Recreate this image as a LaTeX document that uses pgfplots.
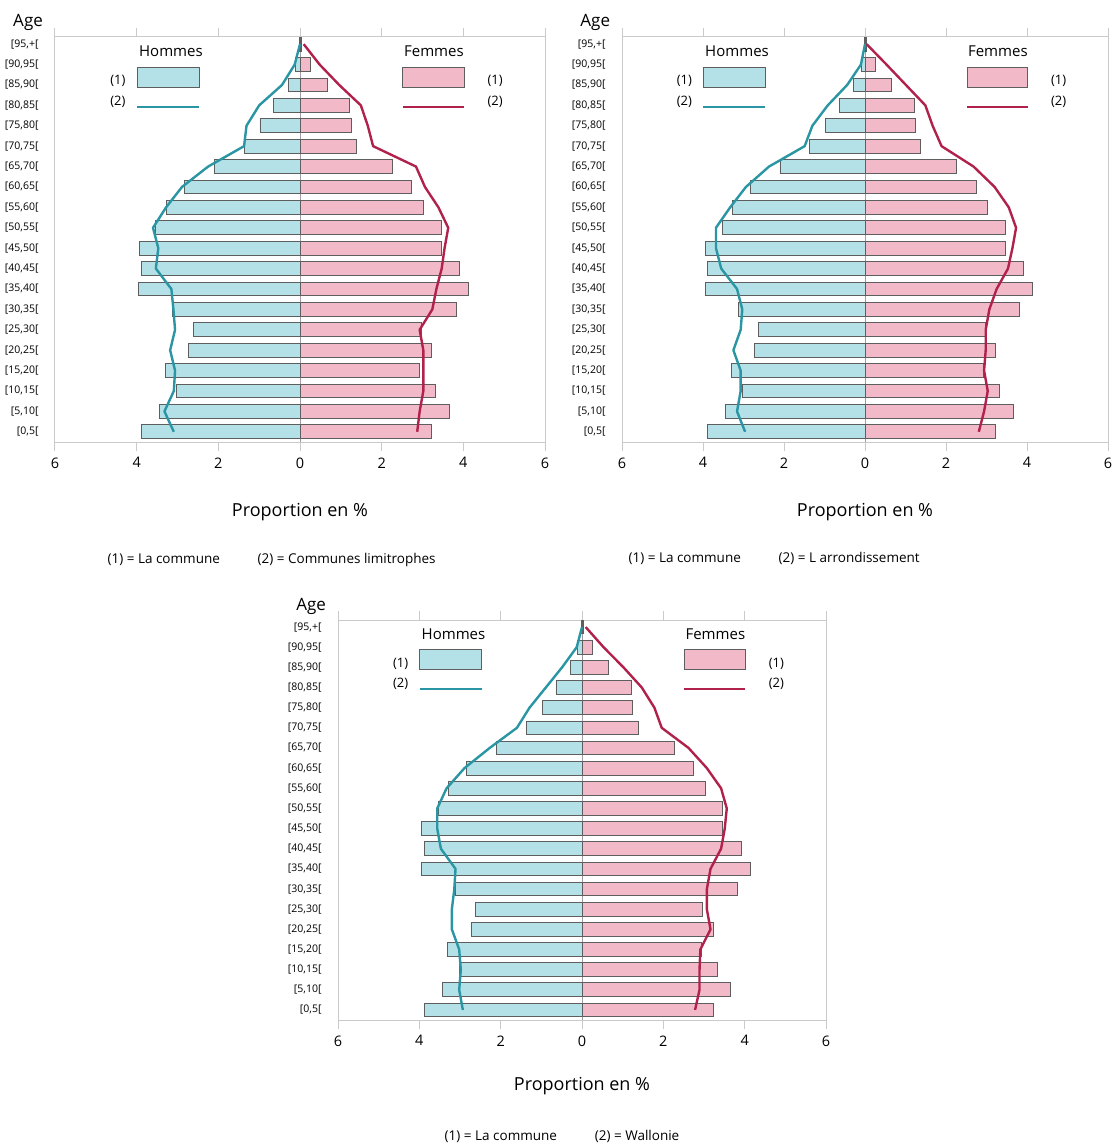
\documentclass[border=0pt]{standalone}
\usepackage{fontspec}
\setmainfont{Open Sans}
\usepackage{pgfplots}
\usepackage{pgfplotstable}
\pgfplotsset{compat=1.18}
\definecolor{menfill}{HTML}{B4E1E8}
\definecolor{womfill}{HTML}{F2BAC8}
\definecolor{baredge}{HTML}{5E5E5E}
\definecolor{menline}{HTML}{2A95A3}
\definecolor{womline}{HTML}{B0224C}
\definecolor{axisgray}{HTML}{CACACA}
\definecolor{midgray}{HTML}{A09AA6}

\pgfplotstableread{
c mb wb m1 w1 m2 w2 m3 w3
0 3.88 3.22 3.09 2.87 2.96 2.81 2.93 2.78
1 3.44 3.66 3.32 2.93 3.16 2.94 3.02 2.89
2 3.02 3.32 3.09 3.02 3.07 3.03 2.98 2.89
3 3.30 2.93 3.06 3.02 3.07 2.94 3.02 2.91
4 2.73 3.22 3.18 3.02 3.25 2.98 3.20 3.16
5 2.62 2.97 3.06 2.93 3.07 2.98 3.20 3.07
6 3.12 3.82 3.10 3.24 3.03 3.07 3.14 3.07
7 3.95 4.13 3.15 3.34 3.16 3.25 3.11 3.16
8 3.88 3.91 3.53 3.47 3.55 3.53 3.47 3.42
9 3.94 3.46 3.47 3.54 3.68 3.64 3.56 3.51
10 3.53 3.46 3.60 3.63 3.68 3.73 3.56 3.56
11 3.28 3.03 3.28 3.39 3.33 3.55 3.33 3.42
12 2.84 2.74 2.89 3.06 2.94 3.20 2.89 3.07
13 2.10 2.27 2.25 2.84 2.37 2.68 2.27 2.62
14 1.37 1.38 1.37 1.79 1.49 1.89 1.60 1.96
15 0.98 1.25 1.31 1.66 1.30 1.67 1.29 1.78
16 0.64 1.21 1.00 1.49 0.92 1.49 0.89 1.47
17 0.29 0.66 0.44 0.96 0.44 1.01 0.49 1.02
18 0.10 0.26 0.13 0.48 0.10 0.53 0.13 0.53
19 0.02 0.03 0.00 0.09 0.00 0.04 0.00 0.09
}\pyr

\pgfplotsset{
  pyr/.style={
    scale only axis,
    xmin=-6, xmax=6, ymin=-0.5, ymax=19.35,
    xtick={-6,-4,-2,0,2,4,6}, xticklabels={6,4,2,0,2,4,6},
    ytick={0,...,19},
    yticklabels={{[0,5[},{[5,10[},{[10,15[},{[15,20[},{[20,25[},{[25,30[},{[30,35[},{[35,40[},{[40,45[},{[45,50[},{[50,55[},{[55,60[},{[60,65[},{[65,70[},{[70,75[},{[75,80[},{[80,85[},{[85,90[},{[90,95[},{[95,+[}},
    axis line style={draw=axisgray, line width=1pt},
    tick align=outside,
    xtick style={draw=axisgray, line width=1pt},
    major tick length=9pt,
    ytick style={draw=none},
    xticklabel style={font=\fontsize{14.5}{16}\selectfont, yshift=-3pt},
    yticklabel style={font=\fontsize{10.5}{12}\selectfont, xshift=-4pt},
    /pgf/number format/assume math mode=true,
    clip=false,
    anchor=south west,
  },
  mbar/.style={xbar, bar width=0.68, bar shift=0pt, fill=menfill, draw=baredge, line width=0.9pt},
  wbar/.style={xbar, bar width=0.68, bar shift=0pt, fill=womfill, draw=baredge, line width=0.9pt},
  mln/.style={menline, line width=2.4pt, no markers, line join=round},
  wln/.style={womline, line width=2.4pt, no markers, line join=round},
}

\newcommand{\centreline}{%
  \draw[midgray, line width=0.8pt] (axis cs:0,-0.5) -- (axis cs:0,19.35);
}
\newcommand{\legendtop}{%
  \node[font=\fontsize{15}{17}\selectfont] at (axis cs:-3.16,18.66) {Hommes};
  \filldraw[fill=menfill, draw=baredge, line width=0.9pt] (axis cs:-3.99,16.9) rectangle (axis cs:-2.47,17.87);
  \draw[menline, line width=2.4pt] (axis cs:-3.99,15.92) -- (axis cs:-2.47,15.92);
  \node[font=\fontsize{13}{15}\selectfont] at (axis cs:-4.46,17.19) {(1)};
  \node[font=\fontsize{13}{15}\selectfont] at (axis cs:-4.46,16.16) {(2)};
  \node[font=\fontsize{15}{17}\selectfont] at (axis cs:3.28,18.66) {Femmes};
  \filldraw[fill=womfill, draw=baredge, line width=0.9pt] (axis cs:2.52,16.9) rectangle (axis cs:4.02,17.87);
  \draw[womline, line width=2.4pt] (axis cs:2.52,15.92) -- (axis cs:4.02,15.92);
  \node[font=\fontsize{13}{15}\selectfont] at (axis cs:4.78,17.19) {(1)};
  \node[font=\fontsize{13}{15}\selectfont] at (axis cs:4.78,16.16) {(2)};
}

\begin{document}
\begin{tikzpicture}
\path[use as bounding box] (0,0) rectangle (1118pt,-1147pt);

% Panel 1
\begin{axis}[pyr, at={(55pt,-442pt)}, width=490pt, height=405pt]
\centreline
\addplot[mbar] table[x expr=-\thisrow{mb}, y=c] {\pyr};
\addplot[wbar] table[x=wb, y=c] {\pyr};
\addplot[mln] table[x expr=-\thisrow{m1}, y=c] {\pyr};
\addplot[wln] table[x=w1, y=c] {\pyr};
\legendtop
\node[font=\fontsize{17}{19}\selectfont] at (axis description cs:-0.055,1.037) {Age};
\node[font=\fontsize{18}{20}\selectfont] at (axis description cs:0.5,-0.173) {Proportion en \%};
\node[font=\fontsize{13.5}{15}\selectfont] at (axis description cs:0.442,-0.292) {(1) = La commune\hspace{2.8em}(2) = Communes limitrophes};
\end{axis}

% Panel 2
\begin{axis}[pyr, at={(622pt,-442pt)}, width=486pt, height=405pt]
\centreline
\addplot[mbar] table[x expr=-\thisrow{mb}, y=c] {\pyr};
\addplot[wbar] table[x=wb, y=c] {\pyr};
\addplot[mln] table[x expr=-\thisrow{m2}, y=c] {\pyr};
\addplot[wln] table[x=w2, y=c] {\pyr};
\legendtop
\node[font=\fontsize{17}{19}\selectfont] at (axis description cs:-0.055,1.037) {Age};
\node[font=\fontsize{18}{20}\selectfont] at (axis description cs:0.5,-0.173) {Proportion en \%};
\node[font=\fontsize{13.5}{15}\selectfont] at (axis description cs:0.313,-0.288) {(1) = La commune\hspace{2.8em}(2) = L arrondissement};
\end{axis}

% Panel 3
\begin{axis}[pyr, at={(338pt,-1020pt)}, width=488pt, height=400pt]
\centreline
\addplot[mbar] table[x expr=-\thisrow{mb}, y=c] {\pyr};
\addplot[wbar] table[x=wb, y=c] {\pyr};
\addplot[mln] table[x expr=-\thisrow{m3}, y=c] {\pyr};
\addplot[wln] table[x=w3, y=c] {\pyr};
\legendtop
\node[font=\fontsize{17}{19}\selectfont] at (axis description cs:-0.055,1.033) {Age};
\node[font=\fontsize{18}{20}\selectfont] at (axis description cs:0.5,-0.165) {Proportion en \%};
\node[font=\fontsize{13.5}{15}\selectfont] at (axis description cs:0.459,-0.29) {(1) = La commune\hspace{2.8em}(2) = Wallonie};
\end{axis}
\end{tikzpicture}
\end{document}
